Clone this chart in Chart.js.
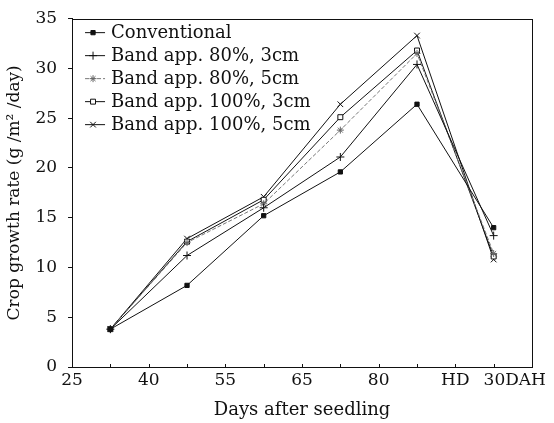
<!DOCTYPE html>
<html>
<head>
<meta charset="utf-8">
<script src="https://cdn.jsdelivr.net/npm/chart.js@4.4.0/dist/chart.umd.min.js"></script>
<style>
html, body { margin: 0; padding: 0; background: #fff; }
#wrap { width: 554px; height: 423px; }
</style>
</head>
<body>
<div id="wrap"><canvas id="cgrChart"></canvas></div>
<script>
// sampling stages as positions on the x axis (one minor tick = one step)
const stagePos = [1, 3, 5, 7, 9, 11];

// crop growth rate, g/m2/day
const conventional = [3.8, 8.2, 15.2, 19.6, 26.4, 14.0];
const band80cm3 = [3.8, 11.2, 16.0, 21.1, 30.4, 13.2];
const band80cm5 = [3.8, 12.5, 16.4, 23.8, 31.5, 11.4];
const band100cm3 = [3.8, 12.6, 16.8, 25.1, 31.8, 11.1];
const band100cm5 = [3.8, 12.9, 17.1, 26.4, 33.3, 10.8];

const seriesLabels = ['Conventional', 'Band app. 80%, 3cm', 'Band app. 80%, 5cm', 'Band app. 100%, 3cm', 'Band app. 100%, 5cm'];

const xTickValues = [0, 2, 4, 6, 8, 10, 11.55];
const xTickLabels = ['25', '40', '55', '65', '80', 'HD', '30DAH'];
const xMinorTicks = [0, 1, 2, 3, 4, 5, 6, 7, 8, 9, 10, 11];
const yTicks = [0, 5, 10, 15, 20, 25, 30, 35];

const INK = '#111';
const FONT = '"DejaVu Serif", "Liberation Serif", serif';

function pts(values) {
    return values.map((v, i) => ({ x: stagePos[i], y: v }));
}

function series(label, values, style, extra) {
    return Object.assign({
        label: label,
        data: pts(values),
        borderColor: INK,
        borderWidth: 1,
        pointStyle: style,
        pointRadius: 3,
        pointBorderWidth: 1,
        pointBorderColor: INK,
        pointBackgroundColor: INK,
        tension: 0
    }, extra || {});
}

// box round the plot area, plus small inward ticks on the x axis
const frame = {
    id: 'frame',
    afterDraw(chart) {
        const a = chart.chartArea;
        const ctx = chart.ctx;
        const xs = chart.scales.x;
        ctx.save();
        ctx.strokeStyle = INK;
        ctx.lineWidth = 1;
        ctx.strokeRect(Math.round(a.left) + 0.5, Math.round(a.top) + 0.5, Math.round(a.right - a.left), Math.round(a.bottom - a.top));
        ctx.beginPath();
        xMinorTicks.forEach(v => {
            const px = Math.round(xs.getPixelForValue(v)) + 0.5;
            ctx.moveTo(px, a.bottom);
            ctx.lineTo(px, a.bottom - 3);
        });
        ctx.stroke();
        ctx.restore();
    }
};

// legend in the top-left corner, line sample with the marker on it
const cornerLegend = {
    id: 'cornerLegend',
    afterDraw(chart) {
        const a = chart.chartArea;
        const ctx = chart.ctx;
        ctx.save();
        ctx.font = '18px ' + FONT;
        ctx.textBaseline = 'middle';
        chart.data.datasets.forEach((ds, i) => {
            const y = a.top + 14 + i * 23;
            const x0 = a.left + 13;
            ctx.strokeStyle = ds.borderColor;
            ctx.lineWidth = 1;
            ctx.setLineDash(ds.borderDash || []);
            ctx.beginPath();
            ctx.moveTo(x0, y);
            ctx.lineTo(x0 + 20, y);
            ctx.stroke();
            ctx.setLineDash([]);
            ctx.fillStyle = ds.pointBackgroundColor;
            ctx.strokeStyle = ds.pointBorderColor;
            ctx.lineWidth = 1;
            Chart.helpers.drawPoint(ctx, { pointStyle: ds.pointStyle, radius: ds.pointRadius, borderWidth: 1, rotation: 0 }, x0 + 8, y);
            ctx.fillStyle = INK;
            ctx.fillText(ds.label, x0 + 26, y + 1);
        });
        ctx.restore();
    }
};

const ctx = document.getElementById('cgrChart').getContext('2d');
new Chart(ctx, {
    type: 'line',
    data: {
        datasets: [
            series(seriesLabels[0], conventional, 'rect'),
            series(seriesLabels[1], band80cm3, 'cross', { pointRadius: 4 }),
            series(seriesLabels[2], band80cm5, 'star', { borderColor: '#777', borderDash: [4, 2], pointBorderColor: '#666', pointRadius: 3.5 }),
            series(seriesLabels[3], band100cm3, 'rect', { pointBackgroundColor: '#fff', pointRadius: 3.5 }),
            series(seriesLabels[4], band100cm5, 'crossRot', { pointRadius: 4 })
        ]
    },
    options: {
        responsive: true,
        maintainAspectRatio: false,
        animation: false,
        layout: { padding: { top: 4, right: 22, left: 0, bottom: 0 } },
        plugins: {
            legend: { display: false },
            tooltip: { enabled: false }
        },
        scales: {
            x: {
                type: 'linear',
                min: 0,
                max: 12,
                afterBuildTicks: (scale) => {
                    scale.ticks = xMinorTicks.concat([11.55]).map(v => ({ value: v }));
                },
                ticks: {
                    autoSkip: false,
                    maxRotation: 0,
                    color: INK,
                    padding: 3,
                    font: { family: FONT, size: 17 },
                    callback: (value) => {
                        const k = xTickValues.indexOf(value);
                        return k >= 0 ? xTickLabels[k] : '';
                    }
                },
                grid: {
                    drawOnChartArea: false,
                    drawTicks: false
                },
                border: { color: INK },
                title: {
                    display: true,
                    text: 'Days after seedling',
                    color: INK,
                    font: { family: FONT, size: 18 },
                    padding: { top: 6, bottom: 2 }
                }
            },
            y: {
                min: 0,
                max: 35,
                afterBuildTicks: (scale) => {
                    scale.ticks = yTicks.map(v => ({ value: v }));
                },
                ticks: {
                    color: INK,
                    padding: 11,
                    font: { family: FONT, size: 17, lineHeight: 0.9 }
                },
                grid: {
                    drawOnChartArea: false,
                    tickLength: 4,
                    tickColor: INK
                },
                border: { color: INK },
                title: {
                    display: true,
                    text: 'Crop growth rate (g /m² /day)',
                    color: INK,
                    font: { family: FONT, size: 17 },
                    padding: { top: 4, bottom: 0 }
                }
            }
        }
    },
    plugins: [frame, cornerLegend]
});
</script>
</body>
</html>
